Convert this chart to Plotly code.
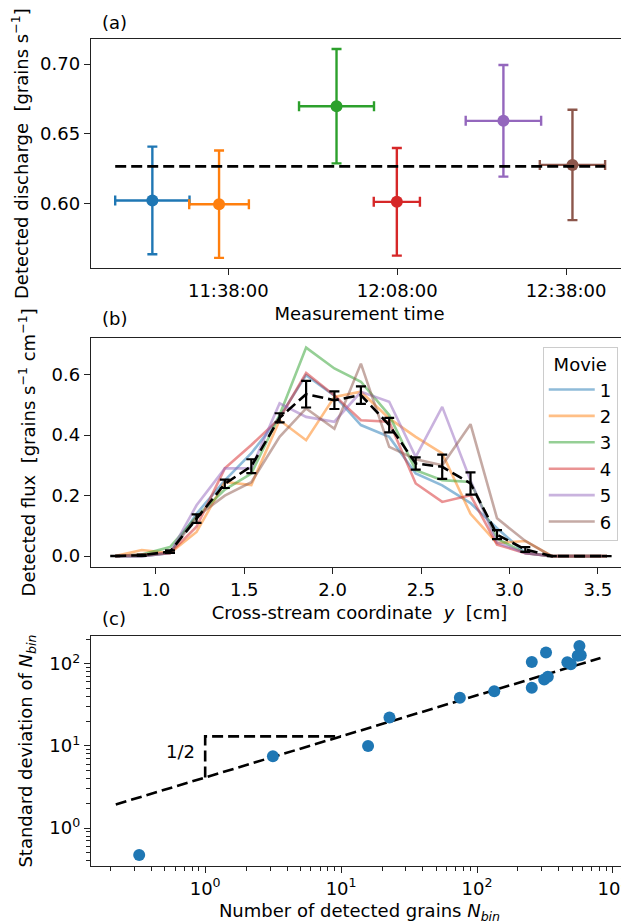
import numpy as np
import plotly.graph_objects as go

# ---------------- data ----------------
# (a) detected discharge per movie
movie_times = ["11:24:30", "11:36:21", "11:57:13", "12:07:56", "12:26:52", "12:39:08"]
movie_half_dur_min = [6.6, 5.3, 6.66, 4.1, 6.7, 5.8]
discharge = [0.6022, 0.5995, 0.6698, 0.6012, 0.6593, 0.6277]
discharge_err = [0.0386, 0.0385, 0.0410, 0.0386, 0.0400, 0.0396]
time_tick_labels = ["11:38:00", "12:08:00", "12:38:00"]

# (b) flux profiles
y_cm = [0.77, 0.92, 1.08, 1.23, 1.39, 1.54, 1.70, 1.85, 2.01, 2.16,
        2.32, 2.47, 2.62, 2.78, 2.93, 3.09, 3.24, 3.40, 3.55]
flux_movie1 = [0, 0.0, 0.01, 0.14, 0.25, 0.34, 0.46, 0.598, 0.53, 0.433, 0.394, 0.273, 0.234, 0.175, 0.092, 0.01, 0, 0, 0]
flux_movie2 = [0, 0.02, 0.01, 0.08, 0.245, 0.235, 0.449, 0.383, 0.526, 0.543, 0.455, 0.394, 0.339, 0.14, 0.043, 0.05, 0, 0, 0]
flux_movie3 = [0, 0.005, 0.03, 0.13, 0.22, 0.273, 0.466, 0.689, 0.62, 0.576, 0.466, 0.284, 0.251, 0.245, 0.058, 0.01, 0, 0, 0]
flux_movie4 = [0, 0.005, 0.01, 0.097, 0.29, 0.367, 0.455, 0.605, 0.531, 0.449, 0.444, 0.240, 0.179, 0.201, 0.038, 0.01, 0, 0, 0]
flux_movie5 = [0, 0, 0.01, 0.168, 0.29, 0.29, 0.505, 0.46, 0.444, 0.543, 0.51, 0.328, 0.493, 0.25, 0.045, 0.01, 0, 0, 0]
flux_movie6 = [0, 0, 0.01, 0.13, 0.20, 0.244, 0.394, 0.488, 0.421, 0.636, 0.361, 0.32, 0.30, 0.436, 0.125, 0.05, 0, 0, 0]
flux_mean = [0.0003, 0.003, 0.015, 0.124, 0.239, 0.297, 0.457, 0.535, 0.515, 0.532,
             0.433, 0.306, 0.295, 0.240, 0.071, 0.022, 0, 0, 0]
flux_mean_err = [0.0005, 0.002, 0.004, 0.014, 0.014, 0.023, 0.015, 0.044, 0.029, 0.029,
                 0.024, 0.020, 0.040, 0.037, 0.015, 0.008, 0, 0, 0]
movie_names = ["1", "2", "3", "4", "5", "6"]

# (c) std vs N
n_bin = [0.327, 3.15, 15.8, 22.7, 74.8, 134, 253, 253, 312, 322, 332, 462, 490, 551, 567, 580]
std_bin = [0.47, 7.5, 9.95, 22.2, 38.5, 46.4, 50.9, 105, 64.4, 137, 69.3, 104, 98.9, 125, 164, 127]
fit_coef = 4.13
fit_n_range = [0.22, 810]
slope_tri_n = [1, 10]
log_tick_labels_x = ["10<sup>0</sup>", "10<sup>1</sup>", "10<sup>2</sup>", "10<sup>3</sup>"]
log_tick_labels_y = ["10<sup>0</sup>", "10<sup>1</sup>", "10<sup>2</sup>"]

# ---------------- style ----------------
colors = ["#1f77b4", "#ff7f0e", "#2ca02c", "#d62728", "#9467bd", "#8c564b"]
FONT = "DejaVu Sans"
FS = 18


def to_min(s):
    h, m, sec = [int(v) for v in s.split(":")]
    return h * 60 + m + sec / 60.0


t_min = [to_min(s) for s in movie_times]

fig = go.Figure()

# ----- (a)
for i in range(len(t_min)):
    fig.add_trace(go.Scatter(
        x=[t_min[i]], y=[discharge[i]], mode="markers",
        marker=dict(color=colors[i], size=12),
        error_x=dict(type="data", array=[movie_half_dur_min[i]], color=colors[i], thickness=2.4, width=5),
        error_y=dict(type="data", array=[discharge_err[i]], color=colors[i], thickness=2.4, width=5),
        xaxis="x", yaxis="y", showlegend=False))
xa0 = min(t - d for t, d in zip(t_min, movie_half_dur_min))
xa1 = max(t + d for t, d in zip(t_min, movie_half_dur_min))
mean_q = float(np.mean(discharge))
fig.add_trace(go.Scatter(x=[xa0, xa1], y=[mean_q, mean_q], mode="lines",
                         line=dict(color="black", width=2.6, dash="11px,5px"),
                         xaxis="x", yaxis="y", showlegend=False))

# ----- (b)
movies = [flux_movie1, flux_movie2, flux_movie3, flux_movie4, flux_movie5, flux_movie6]
for i, f in enumerate(movies):
    fig.add_trace(go.Scatter(x=y_cm, y=f, mode="lines", name=movie_names[i],
                             line=dict(color=colors[i], width=2.6), opacity=0.5,
                             xaxis="x2", yaxis="y2", showlegend=True))
fig.add_trace(go.Scatter(x=y_cm, y=flux_mean, mode="lines",
                         line=dict(color="black", width=2.6, dash="11px,5px"),
                         error_y=dict(type="data", array=flux_mean_err, color="black", thickness=2.2, width=5),
                         xaxis="x2", yaxis="y2", showlegend=False))

# ----- (c)
fig.add_trace(go.Scatter(x=fit_n_range, y=[fit_coef * np.sqrt(n) for n in fit_n_range], mode="lines",
                         line=dict(color="black", width=2.6, dash="11px,5px"),
                         xaxis="x3", yaxis="y3", showlegend=False))
tri_top = fit_coef * np.sqrt(slope_tri_n[1])
fig.add_trace(go.Scatter(x=[slope_tri_n[0], slope_tri_n[0], slope_tri_n[1]],
                         y=[fit_coef * np.sqrt(slope_tri_n[0]), tri_top, tri_top], mode="lines",
                         line=dict(color="black", width=2.6, dash="11px,5px"),
                         xaxis="x3", yaxis="y3", showlegend=False))
fig.add_trace(go.Scatter(x=n_bin, y=std_bin, mode="markers",
                         marker=dict(color="#1f77b4", size=12),
                         xaxis="x3", yaxis="y3", showlegend=False))

# ----- layout (page has an 8px body margin, so the figure is offset by 8px)
OFF = 8
W, H = 629 - OFF, 924 - OFF
ML, MR, MT, MB = 90.7 - OFF, 1, 38.7 - OFF, 924 - 866
ph = H - MT - MB
PW = W - ML - MR


def py(ref_y):
    """reference page y (px) -> paper fraction"""
    return ((H + OFF - ref_y) - MB) / ph


def px(ref_x):
    return (ref_x - OFF - ML) / PW


def pdom(top_px, bot_px):
    return [max(0.0, py(bot_px)), min(1.0, py(top_px))]


axis_common = dict(showline=True, mirror=True, linecolor="#222", linewidth=1.4,
                   ticks="outside", ticklen=6, tickwidth=1.4, tickcolor="#222",
                   showgrid=False, zeroline=False, ticklabeloverflow="allow",
                   tickfont=dict(family=FONT, size=FS, color="black"))
title_font = dict(family=FONT, size=FS, color="black")
minor_common = dict(ticks="outside", ticklen=3.5, tickwidth=1, tickcolor="#222",
                    tickvals=[m * 10 ** e for e in range(-1, 3) for m in range(2, 10)])

fig.update_layout(
    width=W, height=H, margin=dict(l=ML, r=MR, t=MT, b=MB),
    paper_bgcolor="white", plot_bgcolor="white",
    font=dict(family=FONT, size=FS, color="black"),
    xaxis=dict(domain=[0, 1], anchor="y", range=[673.6, 769.0],
               tickvals=[to_min(s) for s in time_tick_labels], ticktext=time_tick_labels,
               title=dict(text="Measurement time", font=title_font, standoff=7), **axis_common),
    yaxis=dict(domain=pdom(38.7, 268), anchor="x", range=[0.5536, 0.718],
               tickvals=[0.60, 0.65, 0.70], tickformat=".2f",
               title=dict(text="Detected discharge  [grains s<sup>−1</sup>]", font=title_font, standoff=15),
               **axis_common),
    xaxis2=dict(domain=[0, 1], anchor="y2", range=[0.633, 3.671], dtick=0.5, tick0=0, tickformat=".1f",
                title=dict(text="Cross-stream coordinate  <i>y</i>  [cm]", font=title_font, standoff=7),
                **axis_common),
    yaxis2=dict(domain=pdom(337.7, 566.7), anchor="x2", range=[-0.0353, 0.721], dtick=0.2, tick0=0,
                tickformat=".1f",
                title=dict(text="Detected flux  [grains s<sup>−1</sup> cm<sup>−1</sup>]", font=title_font, standoff=11),
                **axis_common),
    xaxis3=dict(domain=[0, 1], anchor="y3", type="log", range=[-0.840, 3.111],
                tickvals=[1, 10, 100, 1000], ticktext=log_tick_labels_x,
                minor=minor_common,
                title=dict(text="Number of detected grains <i>N</i><sub><i>bin</i></sub>", font=title_font, standoff=7),
                **axis_common),
    yaxis3=dict(domain=pdom(636, 866), anchor="x3", type="log", range=[-0.462, 2.337],
                tickvals=[1, 10, 100], ticktext=log_tick_labels_y,
                minor=minor_common,
                title=dict(text="Standard deviation of <i>N</i><sub><i>bin</i></sub>", font=title_font, standoff=11),
                **axis_common),
    legend=dict(x=px(542.7), y=py(346.7), xanchor="left", yanchor="top",
                bgcolor="rgba(255,255,255,0.8)", bordercolor="#cccccc", borderwidth=1,
                title=dict(text="Movie", side="top center", font=dict(family=FONT, size=FS)),
                font=dict(family=FONT, size=FS), itemwidth=46),
    annotations=[
        dict(text="(a)", xref="paper", yref="paper", x=px(100), y=py(21.7),
             xanchor="left", yanchor="middle", showarrow=False, font=dict(family=FONT, size=FS)),
        dict(text="(b)", xref="paper", yref="paper", x=px(100), y=py(318.3),
             xanchor="left", yanchor="middle", showarrow=False, font=dict(family=FONT, size=FS)),
        dict(text="(c)", xref="paper", yref="paper", x=px(100), y=py(618.3),
             xanchor="left", yanchor="middle", showarrow=False, font=dict(family=FONT, size=FS)),
        dict(text="1/2", xref="x3", yref="y3", x=float(np.log10(0.865)), y=float(np.log10(8.5)),
             xanchor="right", yanchor="middle", showarrow=False, font=dict(family=FONT, size=FS)),
    ],
)

fig.write_html("out.html")
